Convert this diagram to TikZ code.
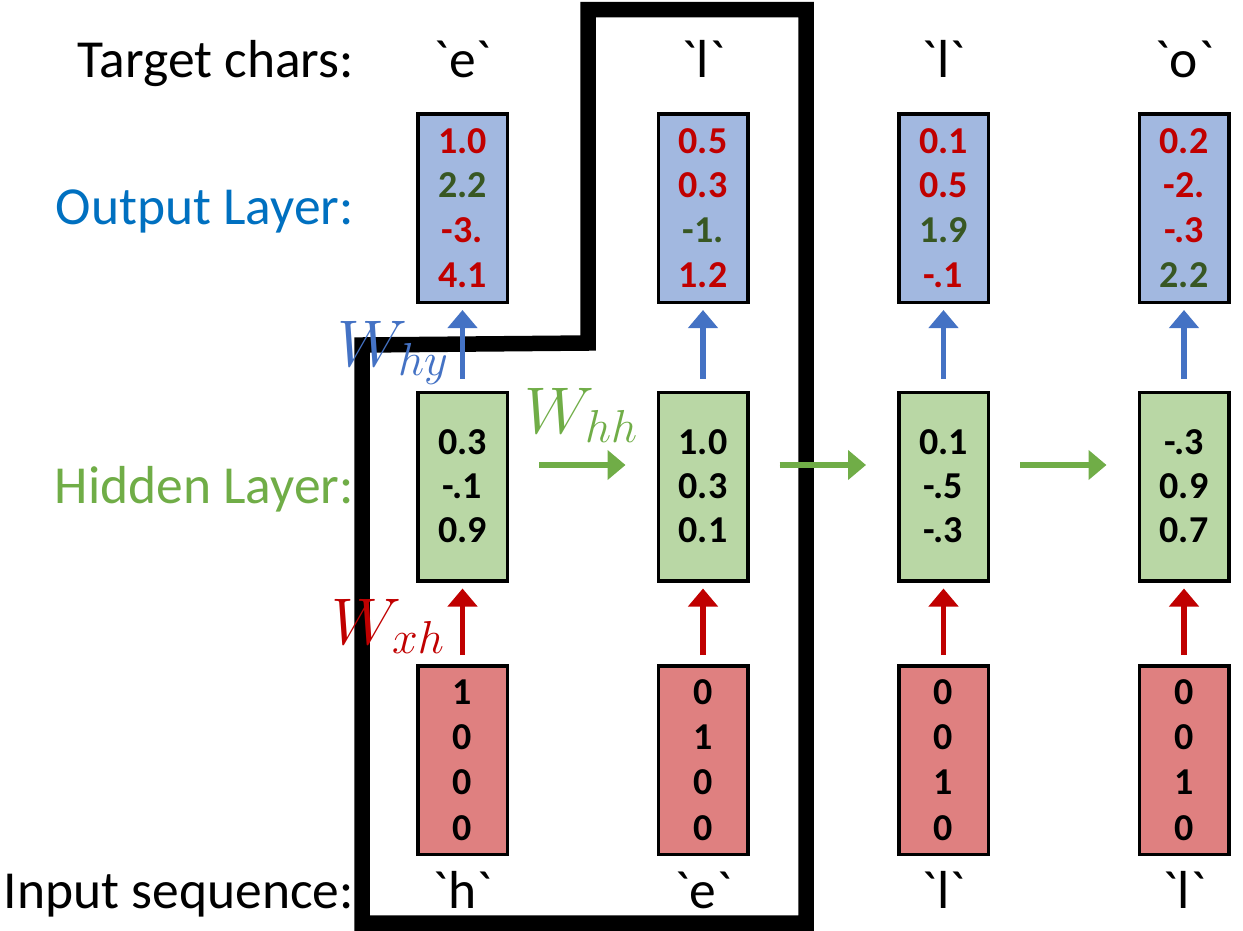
\RequirePackage{fix-cm}
\documentclass[tikz,border=0pt]{standalone}
\usepackage{fontspec}
\setmainfont{Carlito}
\usetikzlibrary{arrows.meta}
\definecolor{outfill}{RGB}{162,184,224}
\definecolor{hidfill}{RGB}{185,215,165}
\definecolor{infill}{RGB}{223,128,128}
\definecolor{vred}{RGB}{192,0,0}
\definecolor{vgreen}{RGB}{56,87,35}
\definecolor{lblue}{RGB}{0,112,192}
\definecolor{lgreen}{RGB}{112,173,71}
\definecolor{ablue}{RGB}{68,114,196}
\newcommand\redv[1]{\textcolor{vred}{#1}}
\newcommand\grnv[1]{\textcolor{vgreen}{#1}}
\newcommand\gq[1]{\textasciigrave#1\textasciigrave}
\begin{document}
\begin{tikzpicture}[x=1pt,y=-1pt,
  box/.style={draw=black,line width=3.5pt,minimum width=89.5pt,minimum height=188.5pt,inner sep=0pt,align=center},
  outbox/.style={box,fill=outfill,font=\fontsize{38}{44.7}\selectfont\bfseries},
  hidbox/.style={box,fill=hidfill,font=\fontsize{38}{44}\selectfont\bfseries},
  inbox/.style={box,fill=infill,font=\fontsize{38}{45.3}\selectfont\bfseries},
  lbl/.style={font=\fontsize{53.5}{60}\selectfont,inner sep=0pt,anchor=base east},
  chr/.style={font=\fontsize{53.5}{60}\selectfont,inner sep=0pt,anchor=base},
  wlbl/.style={font=\fontsize{66}{72}\selectfont,inner sep=0pt,anchor=base west},
  arr/.style={line width=5.5pt,-{Triangle[width=29pt,length=18pt]}},
  outline/.style={line width=15.5pt,line join=miter}]
\useasboundingbox (0,0) rectangle (1243,930);

% thick outline
\draw[outline] (588,9.5) -- (806,9.5) -- (806,923) -- (362,923) -- (362,345) -- (588,343) -- cycle;

% row labels
\node[lbl] (tlab) at (354,77) {Target chars:};
\node[lbl,text=lblue] (olab) at (354,224) {Output Layer:};
\node[lbl,text=lgreen] (hlab) at (354,503) {Hidden Layer:};
\node[lbl] (ilab) at (354,908) {Input sequence:};

% target chars
\node[chr] (t1) at (462.5,77) {\gq{e}};
\node[chr] (t2) at (703,77) {\gq{l}};
\node[chr] (t3) at (943.5,77) {\gq{l}};
\node[chr] (t4) at (1184,77) {\gq{o}};

% input chars
\node[chr] (c1) at (462.5,908) {\gq{h}};
\node[chr] (c2) at (703,908) {\gq{e}};
\node[chr] (c3) at (943.5,908) {\gq{l}};
\node[chr] (c4) at (1184,908) {\gq{l}};

% output boxes
\node[outbox] (o1) at (462.5,208) {\redv{1.0}\\\grnv{2.2}\\\redv{-3.}\\\redv{4.1}};
\node[outbox] (o2) at (703,208) {\redv{0.5}\\\redv{0.3}\\\grnv{-1.}\\\redv{1.2}};
\node[outbox] (o3) at (943.5,208) {\redv{0.1}\\\redv{0.5}\\\grnv{1.9}\\\redv{-.1}};
\node[outbox] (o4) at (1184,208) {\redv{0.2}\\\redv{-2.}\\\redv{-.3}\\\grnv{2.2}};

% hidden boxes
\node[hidbox] (h1) at (462.5,486.5) {0.3\\-.1\\0.9};
\node[hidbox] (h2) at (703,486.5) {1.0\\0.3\\0.1};
\node[hidbox] (h3) at (943.5,486.5) {0.1\\-.5\\-.3};
\node[hidbox] (h4) at (1184,486.5) {-.3\\0.9\\0.7};

% input boxes
\node[inbox] (i1) at (462.5,760) {1\\0\\0\\0};
\node[inbox] (i2) at (703,760) {0\\1\\0\\0};
\node[inbox] (i3) at (943.5,760) {0\\0\\1\\0};
\node[inbox] (i4) at (1184,760) {0\\0\\1\\0};

% arrows hidden -> output, input -> hidden
\foreach \k in {1,2,3,4}{
  \draw[arr,draw=ablue,fill=ablue] ([yshift=12pt]h\k.north) -- ([yshift=-6pt]o\k.south);
  \draw[arr,draw=vred,fill=vred] ([yshift=9pt]i\k.north) -- ([yshift=-6pt]h\k.south);
}
% recurrent arrows
\draw[arr,draw=lgreen,fill=lgreen] ([xshift=30pt,yshift=21.5pt]h1.east) -- ([xshift=-31pt,yshift=21.5pt]h2.west);
\draw[arr,draw=lgreen,fill=lgreen] ([xshift=30pt,yshift=21.5pt]h2.east) -- ([xshift=-31pt,yshift=21.5pt]h3.west);
\draw[arr,draw=lgreen,fill=lgreen] ([xshift=30pt,yshift=21.5pt]h3.east) -- ([xshift=-31pt,yshift=21.5pt]h4.west);

% weight labels
\node[wlbl,text=ablue] (why) at (337,366) {$W_{hy}$};
\node[wlbl,text=lgreen] (whh) at (524,433) {$W_{hh}$};
\node[wlbl,text=vred] (wxh) at (331,644) {$W_{xh}$};
\end{tikzpicture}
\end{document}
